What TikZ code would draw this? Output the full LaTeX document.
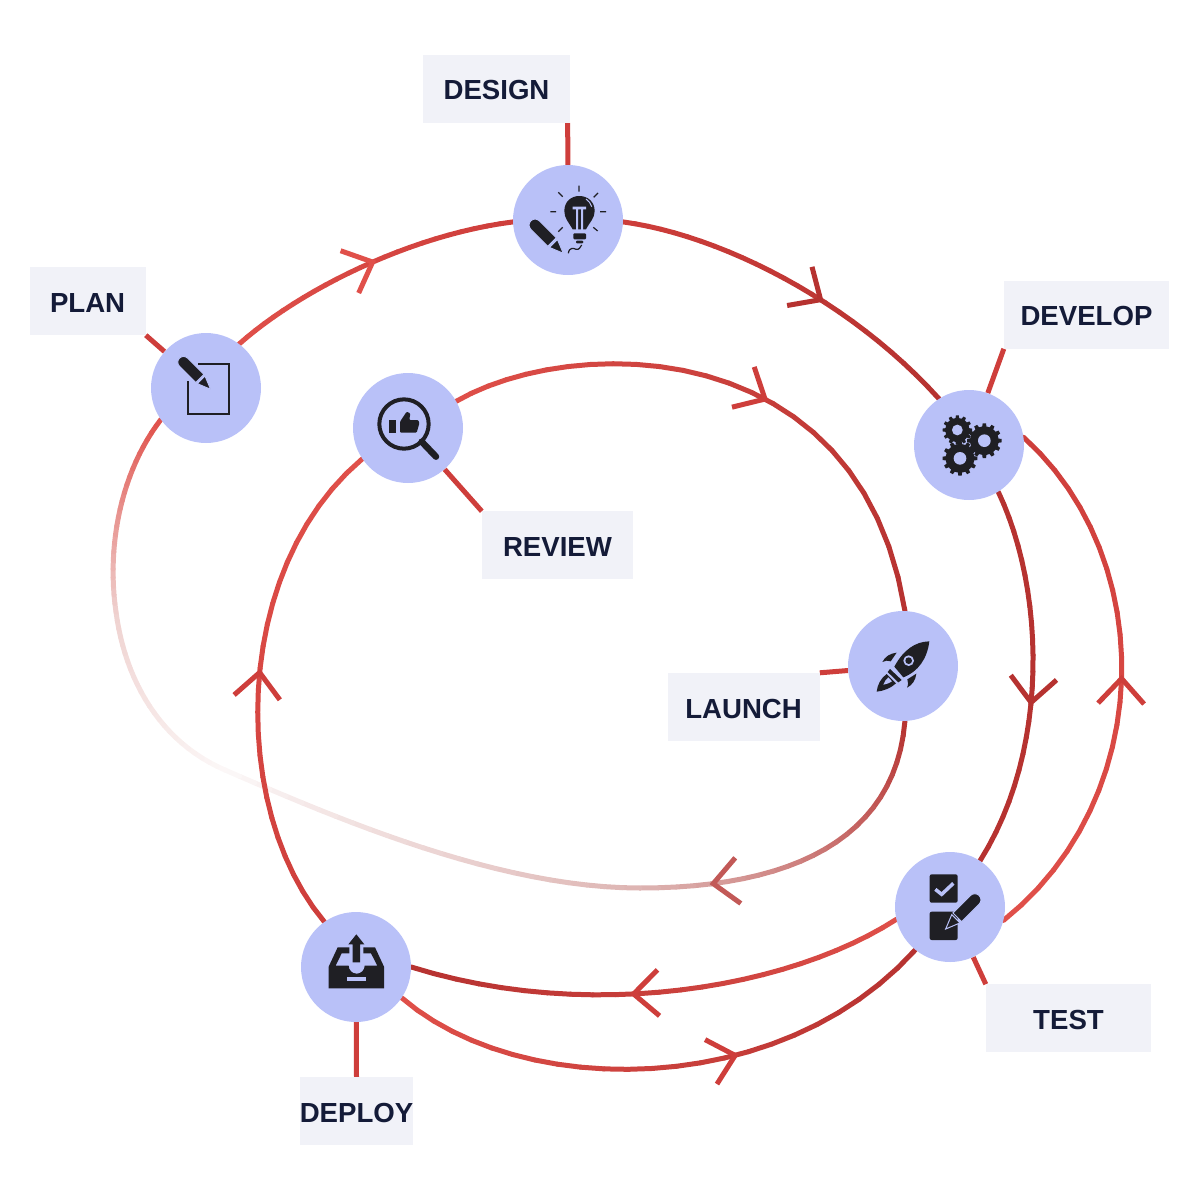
\documentclass[tikz,border=0pt]{standalone}
\usepackage{fontspec}
\setmainfont{Liberation Sans}
\usetikzlibrary{arrows.meta,positioning,backgrounds,decorations.markings}

\definecolor{disc}{HTML}{B9C1F8}
\definecolor{tagfill}{HTML}{F1F2F8}
\definecolor{tagink}{HTML}{141B38}
\definecolor{iconink}{HTML}{1F1F24}
\definecolor{flowlight}{HTML}{E0504A}
\definecolor{flowmid}{HTML}{CE3E3B}
\definecolor{flowdark}{HTML}{B63230}
\definecolor{fadeone}{HTML}{DDB4B2}
\definecolor{fadetwo}{HTML}{FCF8F8}
\definecolor{fadethree}{HTML}{EFD2D0}

\tikzset{
  stagedisc/.style={circle,fill=disc,minimum size=110pt,inner sep=0pt},
  tagbox/.style={fill=tagfill,text=tagink,minimum height=68pt,inner sep=0pt,
    text height=22pt,text depth=0pt,font=\fontsize{27.6}{30}\selectfont\bfseries},
  stub/.style={flowmid,line width=5pt},
  flowpiece/.style={line width=5pt,line cap=round},
  pencilicon/.pic={
    \filldraw[iconink,draw=disc,line width=1pt] (0,0) -- (42,-17) -- (42,17) -- cycle;
    \filldraw[iconink,draw=disc,line width=1pt] (48,-18) -- (120,-18) arc (-90:90:18) -- (48,18) -- cycle;
  },
  gearicon/.pic={
    \fill[iconink] (0,0) circle (43);
    \foreach \a in {0,30,...,330}
      \fill[iconink,rotate=\a] (-7,38) -- (7,38) -- (5,52) -- (-5,52) -- cycle;
    \fill[disc] (0,0) circle (19);
  }
}

% colour runs from #1 to #2 along the curve #3
\newcommand{\flowline}[3]{
  \foreach \i in {1,...,24} {
    \pgfmathsetmacro\ta{(\i-1)/24}
    \pgfmathsetmacro\tb{\i/24}
    \pgfmathsetmacro\mix{100*(\i-0.5)/24}
    \path #3 coordinate[pos=\ta] (qa) coordinate[pos=\tb] (qb);
    \draw[flowpiece,color={#2!\mix!#1}] (qa) -- (qb);
  }
}
\newcommand{\flowtip}[3]{
  \path[decorate,decoration={markings,mark=at position #1 with
    {\arrow[#2,line width=5pt,line cap=round]{Straight Barb[length=25pt,width=46pt]}}}] #3;
}

\begin{document}
\begin{tikzpicture}[x=1pt,y=-1pt]
\useasboundingbox (0,0) rectangle (1200,1200);

\node[stagedisc] (plan) at (206,388) {};
\node[stagedisc] (design) at (568,220) {};
\node[stagedisc] (develop) at (969,445) {};
\node[stagedisc] (launch) at (903,666) {};
\node[stagedisc] (test) at (950,907) {};
\node[stagedisc] (deploy) at (356,967) {};
\node[stagedisc] (review) at (408,428) {};

\node[tagbox,minimum width=147pt,above=42pt of design,xshift=-71.5pt] (tagdesign) {DESIGN};
\node[tagbox,minimum width=116pt,left=5pt of plan,yshift=87pt] (tagplan) {PLAN};
\node[tagbox,minimum width=165pt,above=41pt of develop,xshift=117.5pt] (tagdevelop) {DEVELOP};
\node[tagbox,minimum width=151pt,below=28pt of review,xshift=149.5pt] (tagreview) {REVIEW};
\node[tagbox,minimum width=152pt,left=28pt of launch,yshift=-41pt] (taglaunch) {LAUNCH};
\node[tagbox,minimum width=165pt,below=22pt of test,xshift=118.5pt] (tagtest) {TEST};
\node[tagbox,minimum width=111pt,below=55pt of deploy,xshift=0.5pt] (tagdeploy) {DEPLOY};

\begin{scope}[on background layer]
% Fading return curve
\flowline{flowdark}{fadeone}{(launch.-88) .. controls (895,840) and (790,888) .. (640,888)}
\flowline{fadeone}{fadetwo}{(640,888) .. controls (500,888) and (340,820) .. (225,770)}
\flowline{fadetwo}{fadethree}{(225,770) .. controls (160,742) and (125,680) .. (116,612)}
\flowline{fadethree}{flowlight}{(116,612) .. controls (106,544) and (122,470) .. (plan.215)}
\flowtip{0.80}{color=flowdark!70!fadeone}{(launch.-88) .. controls (895,840) and (790,888) .. (640,888)}

% Flow curves
\flowline{flowlight}{flowmid}{(plan.53) .. controls (300,290) and (410,235) .. (design.182)}
\flowtip{0.53}{color=flowlight}{(plan.53) .. controls (300,290) and (410,235) .. (design.182)}
\flowline{flowmid}{flowdark}{(design.-2) .. controls (720,235) and (850,300) .. (develop.123)}
\flowtip{0.59}{color=flowdark}{(design.-2) .. controls (720,235) and (850,300) .. (develop.123)}
\flowline{flowdark}{flowdark}{(develop.-58) .. controls (1045,590) and (1050,750) .. (test.57)}
\flowtip{0.572}{color=flowdark}{(develop.-58) .. controls (1045,590) and (1050,750) .. (test.57)}
\flowline{flowlight}{flowdark}{(test.193) .. controls (790,988) and (590,1023) .. (deploy.0)}
\flowtip{0.558}{color=flowmid}{(test.193) .. controls (790,988) and (590,1023) .. (deploy.0)}
\flowline{flowlight}{flowdark}{(deploy.-34) .. controls (520,1100) and (780,1100) .. (test.231)}
\flowtip{0.63}{color=flowmid}{(deploy.-34) .. controls (520,1100) and (780,1100) .. (test.231)}
\flowline{flowlight}{flowmid}{(test.-14) .. controls (1155,800) and (1160,560) .. (develop.8)}
\flowtip{0.515}{color=flowmid}{(test.-14) .. controls (1155,800) and (1160,560) .. (develop.8)}
\flowline{flowmid}{flowlight}{(deploy.125) .. controls (230,810) and (230,570) .. (review.214)}
\flowtip{0.528}{color=flowmid}{(deploy.125) .. controls (230,810) and (230,570) .. (review.214)}
\flowline{flowlight}{flowdark}{(review.29) .. controls (570,335) and (860,330) .. (launch.88)}
\flowtip{0.555}{color=flowmid}{(review.29) .. controls (570,335) and (860,330) .. (launch.88)}

% Label stubs
\draw[stub] ([xshift=-2.5pt]tagdesign.south east) -- (design);
\draw[stub] (tagplan.south east) -- (plan);
\draw[stub] (tagdevelop.south west) -- (develop);
\draw[stub] (tagreview.north west) -- (review);
\draw[stub] (taglaunch.north east) -- (launch);
\draw[stub] (tagtest.north west) -- (test);
\draw[stub] (tagdeploy.north) -- (deploy);
\end{scope}

% Design icon
\begin{scope}[shift={(500,150)},scale=1/3]
\fill[iconink] (218,238) .. controls (205,215) and (193,205) .. (193,183) .. controls (193,155) and (213,138) .. (238,138) .. controls (263,138) and (284,155) .. (284,183) .. controls (284,205) and (270,215) .. (258,238) -- cycle;
\fill[disc] (218,170) rectangle (258,178) (228,178) rectangle (234,240) (243,178) rectangle (249,240);
\draw[disc,line width=1pt] (258,147) .. controls (266,152) and (272,160) .. (275,170);
\fill[iconink,rounded corners=1pt] (220,250) rectangle (258,268) (228,272) rectangle (250,280);
\draw[iconink,line width=1.2pt] (237,107) -- (237,125) (175,127) -- (188,140) (294,129) -- (281,142) (151,185) -- (168,185) (300,185) -- (318,185) (175,245) -- (188,232) (280,232) -- (293,243);
\draw[iconink,line width=1.2pt] (205,310) .. controls (208,290) and (222,295) .. (228,298) .. controls (238,300) and (240,292) .. (245,285);
\pic[transform shape,rotate=135] at (190,310) {pencilicon};
\end{scope}

% Plan and review icons
\begin{scope}[shift={(140,320)},scale=1/3]
\draw[iconink,line width=1.7pt] (175,133) -- (267,133) -- (267,282) -- (143,282) -- (143,183);
\pic[transform shape,rotate=135,scale=0.96] at (212,208) {pencilicon};
\draw[iconink,line width=4pt] (792,312) circle (74);
\draw[iconink,line width=6.5pt,line cap=round] (845,365) -- (888,410);
\fill[iconink] (747,300) rectangle (767,338);
\fill[iconink,rounded corners=1pt] (780,338) -- (780,305) -- (800,275) -- (811,280) -- (808,300) -- (835,300) -- (838,310) -- (830,338) -- cycle;
\end{scope}

% Develop icon
\begin{scope}[shift={(900,380)},scale=1/3]
\pic[transform shape,scale=0.85] at (172,150) {gearicon};
\pic[transform shape] at (253,182) {gearicon};
\pic[transform shape] at (180,235) {gearicon};
\end{scope}

% Launch icon
\begin{scope}[shift={(840,600)},scale=1/3]
\fill[iconink] (268,124) .. controls (225,125) and (190,150) .. (163,200) -- (190,232) .. controls (235,215) and (262,175) .. (268,124) -- cycle;
\fill[disc] (206,182) circle (16);
\fill[iconink] (206,182) circle (10);
\fill[iconink] (170,158) .. controls (150,160) and (135,170) .. (127,186) .. controls (135,180) and (145,182) .. (152,184) -- cycle;
\fill[iconink] (229,221) .. controls (227,240) and (217,255) .. (201,263) .. controls (206,253) and (204,245) .. (202,238) -- cycle;
\fill[iconink] (150,207) -- (185,240) -- (175,247) -- (143,216) -- cycle;
\fill[iconink] (110,275) .. controls (112,255) and (122,235) .. (140,222) -- (168,250) .. controls (152,265) and (130,273) .. (110,275) -- cycle;
\fill[disc] (130,254) .. controls (133,245) and (138,238) .. (145,232) -- (156,244) .. controls (148,250) and (140,252) .. (130,254) -- cycle;
\end{scope}

% Test icon
\begin{scope}[shift={(885,845)},scale=1/3]
\fill[iconink,rounded corners=2pt] (134,88) rectangle (218,173);
\fill[iconink,rounded corners=2pt] (134,200) rectangle (218,285);
\draw[disc,line width=3.5pt] (151,133) -- (170,148) -- (205,115);
\pic[transform shape,rotate=45,scale=1.03] at (182,252) {pencilicon};
\end{scope}

% Deploy icon
\begin{scope}[shift={(290,905)},scale=1/3]
\fill[iconink] (116,185) -- (143,127) -- (178,127) -- (178,145) -- (155,145) -- (137,182) -- (176,182) arc (180:0:24) -- (262,182) -- (243,145) -- (220,145) -- (220,127) -- (255,127) -- (282,185) -- (282,250) -- (116,250) -- cycle;
\fill[disc] (170,217) rectangle (228,227);
\fill[iconink] (188,172) -- (188,118) -- (175,118) -- (199,88) -- (223,118) -- (210,118) -- (210,172) -- cycle;
\end{scope}
\end{tikzpicture}
\end{document}
